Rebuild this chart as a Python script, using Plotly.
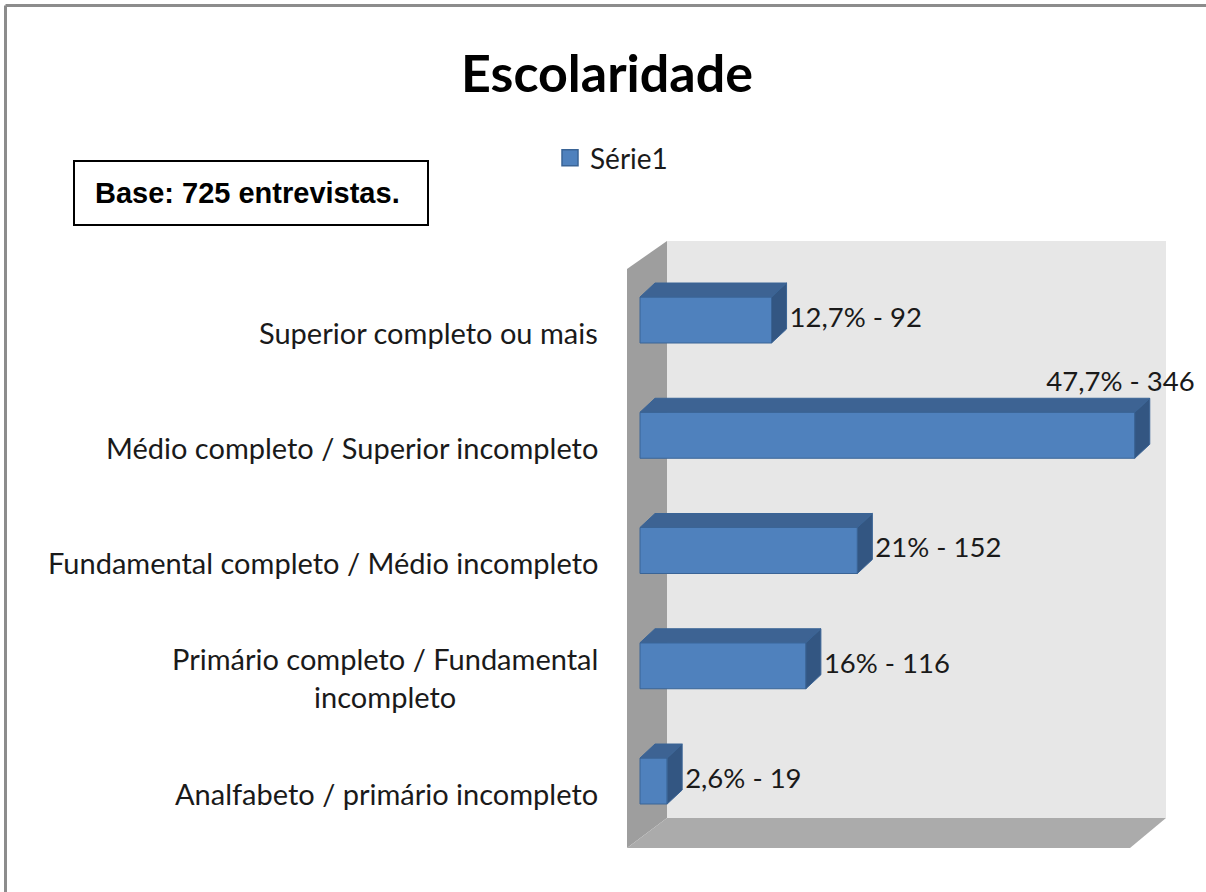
import plotly.graph_objects as go

# ---------------- data ----------------
categories = [
    "Analfabeto / primário incompleto",
    "Primário completo / Fundamental<br>incompleto",
    "Fundamental completo / Médio incompleto",
    "Médio completo / Superior incompleto",
    "Superior completo ou mais",
]
counts = [19, 116, 152, 346, 92]
percents = ["2,6%", "16%", "21%", "47,7%", "12,7%"]
series_name = "Série1"
title_text = "Escolaridade"
base_note = "Base: 725 entrevistas."

# ---------------- geometry / style ----------------
W, H = 1206, 892
X0_PX, XS = 640, 1.43      # pixel of x=0, px per unit
Y0_PX, YS = 793, 115.25    # pixel of category 0, px per category
xrange = [-X0_PX / XS, (W - X0_PX) / XS]
yrange = [-(H - Y0_PX) / YS, Y0_PX / YS]

BAR_SHIFT = 12 / YS        # bars sit slightly above category centre (3D projection)
HALF = 23 / YS             # half height of front face
DX, DY = 15 / XS, 14 / YS  # bar depth offset
LABEL_GAP = 3 / XS

FRONT = "#4F81BD"
TOP = "#3D6393"
SIDE = "#335682"
EDGE = "#3A6496"
FONT = "Lato"
TXT = "#1a1a1a"


def px(x, y):
    return x / W, 1 - y / H


idx = list(range(len(counts)))
ypos = [i + BAR_SHIFT for i in idx]

fig = go.Figure()

# front faces
fig.add_trace(go.Bar(
    x=counts, y=ypos, orientation="h", width=2 * HALF,
    marker=dict(color=FRONT, line=dict(color=EDGE, width=1)),
    name=series_name, showlegend=False, hoverinfo="skip",
))

# top and side faces
tx, ty, sx, sy = [], [], [], []
for v, yc in zip(counts, ypos):
    top, bot = yc + HALF, yc - HALF
    tx += [0, v, v + DX, DX, 0, None]
    ty += [top, top, top + DY, top + DY, top, None]
    sx += [v, v + DX, v + DX, v, v, None]
    sy += [top, top + DY, bot + DY, bot, top, None]
fig.add_trace(go.Scatter(x=tx, y=ty, mode="lines", fill="toself", fillcolor=TOP,
                         line=dict(color=EDGE, width=1), showlegend=False, hoverinfo="skip"))
fig.add_trace(go.Scatter(x=sx, y=sy, mode="lines", fill="toself", fillcolor=SIDE,
                         line=dict(color=EDGE, width=1), showlegend=False, hoverinfo="skip"))

# legend entry for the series
fig.add_trace(go.Scatter(x=[None], y=[None], mode="markers", name=series_name,
                         marker=dict(symbol="square", size=19, color=FRONT,
                                     line=dict(color=EDGE, width=1.5)),
                         showlegend=True, hoverinfo="skip"))

# data labels
vmax = max(counts)
lx, ly, lpos, ltxt = [], [], [], []
for v, yc, p in zip(counts, ypos, percents):
    ltxt.append(f"{p} - {v}")
    if v == vmax:
        lx.append(v - 10)
        ly.append(yc + HALF + DY)
        lpos.append("top center")
    else:
        lx.append(v + DX + LABEL_GAP)
        ly.append(yc)
        lpos.append("middle right")
fig.add_trace(go.Scatter(x=lx, y=ly, mode="text", text=ltxt, textposition=lpos,
                         textfont=dict(family=FONT, size=27.5, color=TXT),
                         showlegend=False, hoverinfo="skip", cliponaxis=False))

shapes = []
# back wall
x1, y1 = px(667, 241)
x2, y2 = px(1166, 818)
shapes.append(dict(type="rect", xref="paper", yref="paper", x0=x1, y0=y2, x1=x2, y1=y1,
                   fillcolor="#E7E7E7", line=dict(width=0), layer="below"))


def poly(pts, color):
    path = "M " + " L ".join(f"{px(a, b)[0]},{px(a, b)[1]}" for a, b in pts) + " Z"
    return dict(type="path", xref="paper", yref="paper", path=path,
                fillcolor=color, line=dict(width=0), layer="below")


shapes.append(poly([(627, 269), (667, 241), (667, 818), (627, 848)], "#9E9E9E"))
shapes.append(poly([(627, 848), (667, 818), (1166, 818), (1130, 848)], "#ABABAB"))

# outer frame (top and left)
shapes.append(dict(type="line", xref="paper", yref="paper",
                   x0=px(5.5, 5.5)[0], y0=px(5.5, 5.5)[1], x1=1, y1=px(5.5, 5.5)[1],
                   line=dict(color="#8C8C8C", width=3)))
shapes.append(dict(type="line", xref="paper", yref="paper",
                   x0=px(5.5, 5.5)[0], y0=px(5.5, 5.5)[1], x1=px(5.5, 892)[0], y1=0,
                   line=dict(color="#8C8C8C", width=3)))
# base note box
bx0, by0 = px(74, 161)
bx1, by1 = px(428, 225)
shapes.append(dict(type="rect", xref="paper", yref="paper", x0=bx0, y0=by1, x1=bx1, y1=by0,
                   fillcolor="white", line=dict(color="black", width=2)))

annotations = []
for i, c in zip(idx, categories):
    annotations.append(dict(x=px(600, 0)[0], xref="paper", y=i, yref="y", text=c,
                            xanchor="right", yanchor="middle", align="center", showarrow=False,
                            font=dict(family=FONT, size=29, color=TXT)))
tx_, ty_ = px(607, 72)
annotations.append(dict(x=tx_, y=ty_, xref="paper", yref="paper", text=f"<b>{title_text}</b>",
                        xanchor="center", yanchor="middle", showarrow=False,
                        font=dict(family=FONT, size=52, color="black")))
nx_, ny_ = px(247, 193)
annotations.append(dict(x=nx_, y=ny_, xref="paper", yref="paper", text=f"<b>{base_note}</b>",
                        xanchor="center", yanchor="middle", showarrow=False,
                        font=dict(family="Liberation Sans", size=29, color="black")))

lgx, lgy = px(550, 158)
fig.update_layout(
    width=W, height=H, autosize=False,
    margin=dict(l=0, r=0, t=0, b=0),
    paper_bgcolor="white", plot_bgcolor="rgba(0,0,0,0)",
    xaxis=dict(range=xrange, domain=[0, 1], visible=False, fixedrange=True),
    yaxis=dict(range=yrange, domain=[0, 1], visible=False, fixedrange=True),
    shapes=shapes, annotations=annotations,
    legend=dict(x=lgx, y=lgy, xanchor="left", yanchor="middle", bgcolor="rgba(0,0,0,0)",
                itemsizing="trace",
                font=dict(family=FONT, size=28, color=TXT)),
    showlegend=True,
)

fig.write_html("out.html", config={"displayModeBar": False},
               post_script="document.body.style.margin='0';")
